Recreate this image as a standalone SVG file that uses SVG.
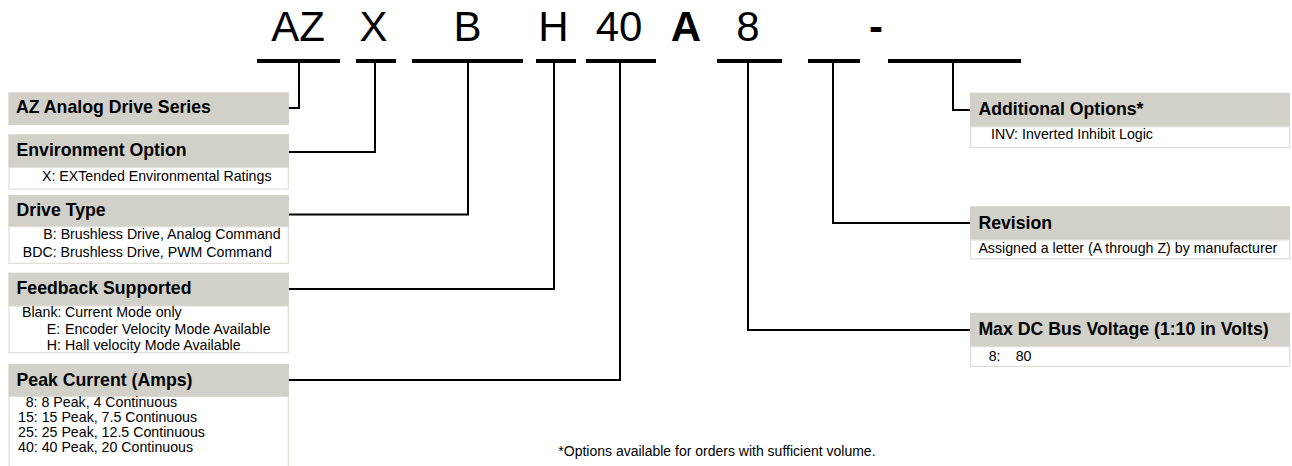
<svg xmlns="http://www.w3.org/2000/svg" width="1292" height="466" viewBox="0 0 1292 466">
<style>
text{font-family:"Liberation Sans",Arial,sans-serif;fill:#000}
.code{font-size:42px;text-anchor:middle}
.b{font-weight:bold}
.t{font-size:17.7px;font-weight:bold}
.s{font-size:14.2px}
.hd{fill:#d1d0c9}
.bd{fill:#fff;stroke:#dddcd5;stroke-width:1.2}
.bar{stroke:#000;stroke-width:4}
.con{fill:none;stroke:#000;stroke-width:2}
</style>
<rect width="1292" height="466" fill="#fff"/>
<g id="code">
<text class="code" x="298" y="41">AZ</text>
<text class="code" x="373.5" y="41">X</text>
<text class="code" x="467.5" y="41">B</text>
<text class="code" x="553.5" y="41">H</text>
<text class="code" x="619" y="41">40</text>
<text class="code b" x="686" y="41">A</text>
<text class="code" x="748" y="41">8</text>
<text class="code b" x="876" y="41">-</text>
</g>
<g id="bars">
<line class="bar" x1="257" y1="61" x2="340" y2="61"/>
<line class="bar" x1="356" y1="61" x2="396" y2="61"/>
<line class="bar" x1="412" y1="61" x2="523" y2="61"/>
<line class="bar" x1="536" y1="61" x2="576" y2="61"/>
<line class="bar" x1="586" y1="61" x2="656" y2="61"/>
<line class="bar" x1="717" y1="61" x2="782" y2="61"/>
<line class="bar" x1="808" y1="61" x2="860" y2="61"/>
<line class="bar" x1="888" y1="61" x2="1021" y2="61"/>
</g>
<g id="connectors">
<polyline class="con" points="299,62 299,108 289,108"/>
<polyline class="con" points="375,62 375,152 289,152"/>
<polyline class="con" points="468,62 468,214.5 289,214.5"/>
<polyline class="con" points="554,62 554,289 289,289"/>
<polyline class="con" points="620,62 620,380 289,380"/>
<polyline class="con" points="748,62 748,330 970,330"/>
<polyline class="con" points="833,62 833,223 970,223"/>
<polyline class="con" points="953,62 953,110 970,110"/>
</g>
<g id="series">
<rect class="hd" x="8.3" y="92.3" width="280.7" height="32.7"/>
<text class="t" x="16" y="113.3">AZ Analog Drive Series</text>
</g>
<g id="environment">
<rect class="hd" x="8.3" y="134.3" width="280.7" height="33"/>
<rect class="bd" x="9" y="167.3" width="279.3" height="21.7"/>
<text class="t" x="16.5" y="155.5">Environment Option</text>
<text class="s" x="42" y="181">X: EXTended Environmental Ratings</text>
</g>
<g id="drivetype">
<rect class="hd" x="8.3" y="195" width="280.7" height="31.7"/>
<rect class="bd" x="9" y="226.7" width="279.3" height="36.6"/>
<text class="t" x="16.5" y="216">Drive Type</text>
<text class="s" x="43.3" y="239.3">B: Brushless Drive, Analog Command</text>
<text class="s" x="22.7" y="256.7">BDC: Brushless Drive, PWM Command</text>
</g>
<g id="feedback">
<rect class="hd" x="8.3" y="272.7" width="280.7" height="33.3"/>
<rect class="bd" x="9" y="306" width="279.3" height="46.7"/>
<text class="t" x="16.5" y="293.7">Feedback Supported</text>
<text class="s" y="317.3"><tspan x="22">Blank:</tspan><tspan x="65">Current Mode only</tspan></text>
<text class="s" y="333.8"><tspan x="46.7">E:</tspan><tspan x="65">Encoder Velocity Mode Available</tspan></text>
<text class="s" y="349.7"><tspan x="46.7">H:</tspan><tspan x="65">Hall velocity Mode Available</tspan></text>
</g>
<g id="peak">
<rect class="hd" x="8.3" y="364" width="280.7" height="32.5"/>
<rect class="bd" x="9" y="396.5" width="279.3" height="75"/>
<text class="t" x="16.5" y="385.5">Peak Current (Amps)</text>
<text class="s" x="25.7" y="407.3">8: 8 Peak, 4 Continuous</text>
<text class="s" x="18" y="421.5">15: 15 Peak, 7.5 Continuous</text>
<text class="s" x="18" y="437.3">25: 25 Peak, 12.5 Continuous</text>
<text class="s" x="18" y="452">40: 40 Peak, 20 Continuous</text>
</g>
<g id="additional">
<rect class="hd" x="970" y="92.8" width="320" height="33.9"/>
<rect class="bd" x="970.7" y="126.7" width="319" height="20.8"/>
<text class="t" x="978.4" y="114.6">Additional Options*</text>
<text class="s" x="991" y="138.8">INV: Inverted Inhibit Logic</text>
</g>
<g id="revision">
<rect class="hd" x="970" y="206.3" width="320" height="33.6"/>
<rect class="bd" x="970.7" y="239.9" width="319" height="19"/>
<text class="t" x="978.4" y="228.8">Revision</text>
<text class="s" x="978.4" y="253">Assigned a letter (A through Z) by manufacturer</text>
</g>
<g id="voltage">
<rect class="hd" x="970" y="312.8" width="320" height="33.9"/>
<rect class="bd" x="970.7" y="346.7" width="319" height="19.7"/>
<text class="t" x="978.4" y="335.3">Max DC Bus Voltage (1:10 in Volts)</text>
<text class="s" y="360.6"><tspan x="988.7">8:</tspan><tspan x="1015.7">80</tspan></text>
</g>
<text id="footnote" x="558.3" y="456" font-size="14">*Options available for orders with sufficient volume.</text>
</svg>
